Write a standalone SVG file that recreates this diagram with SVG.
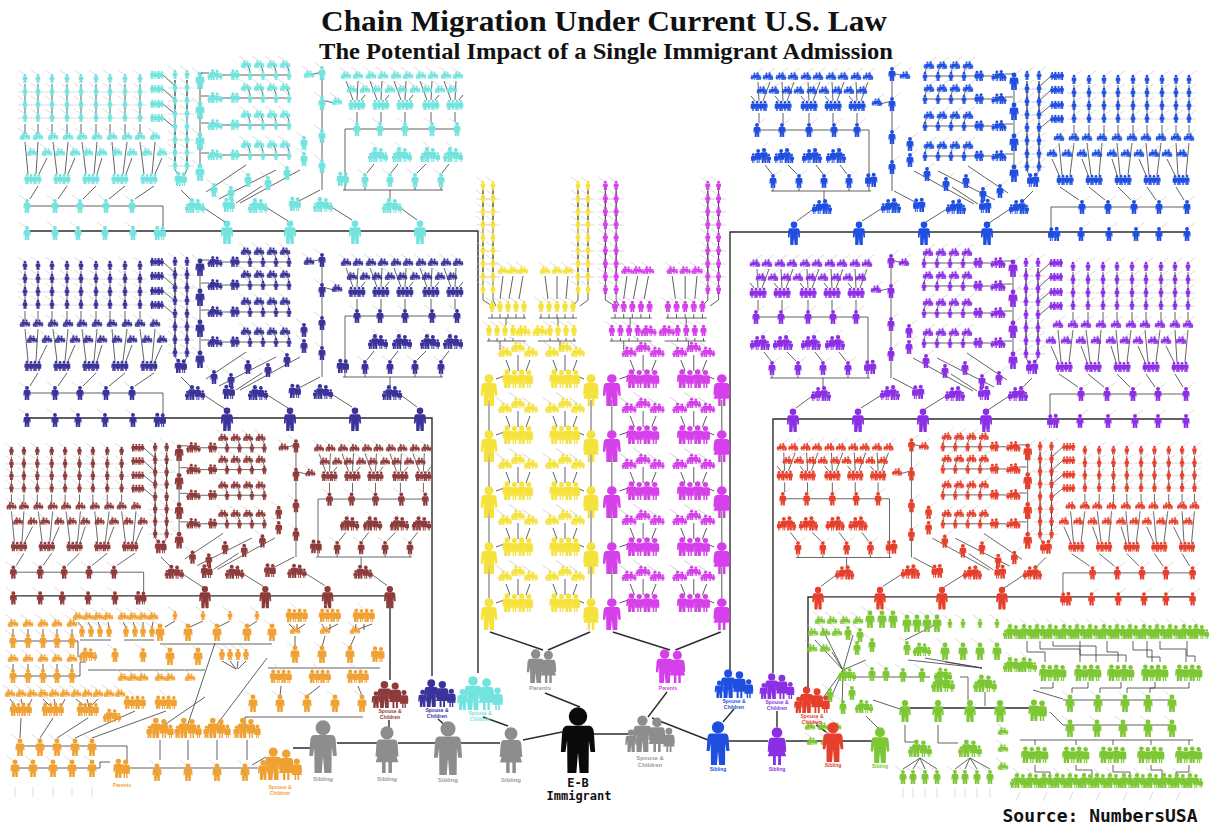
<svg xmlns="http://www.w3.org/2000/svg" width="1216" height="833" viewBox="0 0 1216 833">
<style>
.ln{stroke:#2d2d2d;stroke-width:1.4;fill:none}
.lt{stroke:#3b3b3b;stroke-width:.8;fill:none}
.gr{stroke:#c6c6c6;stroke-width:.6;fill:none}
.tl{font-family:"Liberation Serif","Times New Roman",serif;font-weight:bold;text-anchor:middle;fill:#111}
.lb{font-family:"Liberation Sans",Arial,sans-serif;font-weight:bold;text-anchor:middle;font-size:5px}
.lg{font-family:"Liberation Sans",Arial,sans-serif;font-weight:bold;text-anchor:middle;font-size:6px;fill:#9a9a9a}
.mono{font-family:"DejaVu Sans Mono","Liberation Mono",monospace;font-weight:bold;text-anchor:middle;fill:#111}
</style>
<defs>
<g id="P"><circle cx="0" cy="-17.1" r="2.8"/><path d="M-3.5,-14.3H3.5Q4.6,-14.1 4.8,-12.4L5.2,-6.4H3.8L3.3,-9.8L3.2,0H0.5L0,-6.2L-0.5,0H-3.2L-3.3,-9.8L-3.8,-6.4H-5.2L-4.8,-12.4Q-4.6,-14.1 -3.5,-14.3Z"/></g>
<g id="W"><circle cx="0" cy="-17.1" r="2.8"/><path d="M-3.2,-14.3H3.2Q4.3,-14.1 4.5,-12.4L4.9,-7H3.6L3.1,-10.2L4.8,-4.6H2.1V0H0.6V-4.6H-0.6V0H-2.1V-4.6H-4.8L-3.1,-10.2L-3.6,-7H-4.9L-4.5,-12.4Q-4.3,-14.1 -3.2,-14.3Z"/></g>
<g id="F"><use href="#P" transform="translate(-2.8,0) scale(.68)"/><use href="#W" transform="translate(2.6,0) scale(.64)"/><use href="#P" transform="translate(-7,0) scale(.42)"/><use href="#W" transform="translate(7,0) scale(.45)"/></g>
<g id="C"><use href="#P" transform="translate(-2.7,0) scale(.72)"/><use href="#W" transform="translate(2.7,0) scale(.69)"/></g>
<g id="G"><use href="#P" transform="translate(-6,0) scale(.52)"/><use href="#W" transform="translate(-2,0) scale(.5)"/><use href="#P" transform="translate(2,0) scale(.52)"/><use href="#W" transform="translate(6,0) scale(.5)"/></g>
<g id="t"><path class="gr" d="M0,-8l-7,-5"/><use href="#P" transform="scale(.46)"/></g>
<g id="q"><path class="gr" d="M0,-10l-7,-5"/><use href="#P" transform="scale(.56)"/></g>
<g id="s"><path class="gr" d="M0,-12l-8,-6"/><use href="#P" transform="scale(.7)"/></g>
<g id="m"><path class="gr" d="M0,-15l-8,-6"/><use href="#P" transform="scale(.88)"/></g>
<g id="b"><use href="#P" transform="scale(1.18)"/></g>
<g id="f"><path class="gr" d="M0,-7l-7,-5"/><use href="#F" transform="scale(.58)"/></g>
<g id="F8"><use href="#F" transform="scale(.82)"/></g>
<g id="F1"><path class="gr" d="M0,-14l-7,-6"/><use href="#F" transform="scale(1.1)"/></g>
<g id="F15"><use href="#F" transform="scale(1.5)"/></g>
<g id="G8"><use href="#G" transform="scale(.8)"/></g>
<g id="G13"><path class="gr" d="M0,-13l-7,-6"/><use href="#G" transform="scale(1.3)"/></g>
<g id="G16"><use href="#G" transform="scale(1.6)"/></g>
<g id="ch"><path class="lt" d="M0,-38V-2"/><path class="gr" d="M-7,-4H7M-7,-17H7M-7,-30H7"/><use href="#t"/><use href="#t" y="-13"/><use href="#t" y="-26"/><use href="#t" y="-39"/></g>
<g id="brow"><path class="lt" d="M1,-7H9M22,-5H91M47,-17L50,-9M60,-17L63,-9M73,-17L76,-9M86,-17L89,-9"/><use href="#F8" x="15"/><use href="#C" transform="translate(35,0) scale(.75)"/><use href="#t" x="50"/><use href="#t" x="63"/><use href="#t" x="76"/><use href="#t" x="89"/><use href="#f" x="46" y="-12"/><use href="#f" x="59" y="-12"/><use href="#f" x="72" y="-12"/><use href="#f" x="85" y="-12"/></g>

<g id="blk">
<path class="lt" d="M25,124V134M38,124V134M52,124V134M67,124V134M81,124V134M96,124V134M110,124V134M125,124V134M140,124V134"/>
<path class="lt" d="M25,142L28,174M38,142L36,174M47,158L39,174M53,142L57,174M68,142L65,174M75,158L68,174M82,142L86,174M97,142L94,174M102,158L97,174M112,142L115,174M127,142L123,174M132,158L126,174M140,142L144,174M155,142L152,174M162,158L155,174"/>
<path class="lt" d="M38,186L30,199M67,186L58,199M96,186L83,199M125,186L109,199M154,186L135,199M27,206H163V231"/>
<path class="ln" d="M27,231H420"/>
<use href="#ch" x="25" y="122"/><use href="#ch" x="38" y="122"/><use href="#ch" x="52" y="122"/><use href="#ch" x="67" y="122"/><use href="#ch" x="81" y="122"/><use href="#ch" x="96" y="122"/><use href="#ch" x="110" y="122"/><use href="#ch" x="125" y="122"/><use href="#ch" x="140" y="122"/>
<use href="#f" x="25" y="140"/><use href="#f" x="38" y="140"/><use href="#f" x="53" y="140"/><use href="#f" x="68" y="140"/><use href="#f" x="82" y="140"/><use href="#f" x="97" y="140"/><use href="#f" x="112" y="140"/><use href="#f" x="127" y="140"/><use href="#f" x="140" y="140"/><use href="#f" x="155" y="140"/>
<use href="#f" x="32" y="156"/><use href="#f" x="47" y="156"/><use href="#f" x="60" y="156"/><use href="#f" x="75" y="156"/><use href="#f" x="88" y="156"/><use href="#f" x="102" y="156"/><use href="#f" x="117" y="156"/><use href="#f" x="132" y="156"/><use href="#f" x="147" y="156"/><use href="#f" x="162" y="156"/>
<use href="#G" x="33" y="184"/><use href="#G" x="62" y="184"/><use href="#G" x="91" y="184"/><use href="#G" x="120" y="184"/><use href="#G" x="149" y="184"/>
<use href="#s" x="27" y="213"/><use href="#s" x="55" y="213"/><use href="#s" x="80" y="213"/><use href="#s" x="106" y="213"/><use href="#s" x="132" y="213"/>
<use href="#s" x="27" y="240"/><use href="#s" x="55" y="240"/><use href="#s" x="78" y="240"/><use href="#s" x="105" y="240"/><use href="#s" x="133" y="240"/>
<use href="#C" x="160" y="240"/>
<use href="#b" x="227" y="244"/><use href="#b" x="290" y="244"/><use href="#b" x="355" y="244"/><use href="#b" x="420" y="244"/>
<path class="lt" d="M175,80V168M187,80V168M163,75L175,86M163,89L175,100M163,104L175,114M163,118L175,128M175,170L179,175M187,170L184,175M200,72V166M322,70V190M310,75L322,72M322,100L334,103M206,192L246,165M219,199L276,170M240,203L300,170M201,206L225,222M264,206L288,221M330,206L352,220M181,190L192,201M299,201L320,190M236,203L262,186"/>
<use href="#G8" x="157" y="79"/><use href="#G8" x="157" y="93"/><use href="#G8" x="157" y="108"/><use href="#G8" x="157" y="122"/>
<use href="#ch" x="175" y="118"/><use href="#ch" x="175" y="170"/><use href="#ch" x="187" y="118"/><use href="#ch" x="187" y="170"/>
<use href="#C" x="181" y="186"/>
<use href="#m" x="200" y="89"/><use href="#m" x="200" y="119"/><use href="#m" x="200" y="150"/><use href="#m" x="200" y="181"/>
<use href="#brow" x="200" y="80"/><use href="#brow" x="200" y="103"/><use href="#brow" x="200" y="130"/><use href="#brow" x="200" y="160"/>
<use href="#s" x="322" y="80"/><use href="#s" x="322" y="110"/><use href="#s" x="322" y="143"/><use href="#s" x="322" y="173"/>
<use href="#f" x="309" y="78"/><use href="#f" x="337" y="105"/>
<use href="#s" x="304" y="150"/><use href="#s" x="304" y="166"/>
<use href="#s" x="214" y="197"/><use href="#s" x="231" y="200"/><use href="#s" x="248" y="187"/><use href="#s" x="268" y="190"/><use href="#s" x="287" y="180"/>
<use href="#F" transform="translate(195,213) scale(1.1)"/><use href="#F" transform="translate(258,213) scale(1.1)"/><use href="#F" transform="translate(323,212) scale(1.1)"/>
<use href="#C" x="229" y="212"/><use href="#C" x="295" y="211"/>
<path class="lt" d="M346,81L353,100M358,81L357,100M365,95L361,100M370,81L377,100M382,81L381,100M389,95L385,100M394,81L401,100M406,81L405,100M413,95L409,100M420,81L427,100M432,81L431,100M439,95L435,100M444,81L451,100M456,81L455,100M463,95L459,100"/>
<path class="lt" d="M357,112V122M381,112V122M405,112V122M431,112V122M455,112V122M345,129H460M345,129V190M374,164L367,173M398,164L391,173M426,164L417,173M449,164L442,173M343,190H443M365,190V187M390,190V199M415,190V187M441,190V187M398,206L417,220"/>
<use href="#f" x="346" y="79"/><use href="#f" x="358" y="79"/><use href="#f" x="371" y="79"/><use href="#f" x="383" y="79"/><use href="#f" x="396" y="79"/><use href="#f" x="408" y="79"/><use href="#f" x="421" y="79"/><use href="#f" x="433" y="79"/><use href="#f" x="446" y="79"/><use href="#f" x="458" y="79"/>
<use href="#f" x="352" y="93"/><use href="#f" x="365" y="93"/><use href="#f" x="377" y="93"/><use href="#f" x="390" y="93"/><use href="#f" x="402" y="93"/><use href="#f" x="415" y="93"/><use href="#f" x="427" y="93"/><use href="#f" x="440" y="93"/><use href="#f" x="452" y="93"/>
<use href="#G" x="357" y="110"/><use href="#G" x="381" y="110"/><use href="#G" x="405" y="110"/><use href="#G" x="431" y="110"/><use href="#G" x="455" y="110"/>
<use href="#s" x="357" y="136"/><use href="#s" x="380" y="136"/><use href="#s" x="405" y="136"/><use href="#s" x="432" y="136"/><use href="#s" x="457" y="136"/>
<use href="#F1" x="378" y="162"/><use href="#F1" x="402" y="162"/><use href="#F1" x="430" y="162"/><use href="#F1" x="453" y="162"/>
<use href="#C" x="343" y="186"/>
<use href="#s" x="365" y="187"/><use href="#s" x="390" y="187"/><use href="#s" x="415" y="187"/><use href="#s" x="441" y="187"/>
<use href="#F" transform="translate(392,213) scale(1.1)"/>
</g>

<g id="yu">
<path class="lt" d="M506,-28L510,-17M518,-33V-17M530,-28L526,-17M553,-28L557,-17M565,-33V-17M577,-28L573,-17M496,-9L504,-12M584,-9L577,-12"/>
<use href="#f" transform="translate(505,-31) scale(1.3)"/><use href="#f" transform="translate(518,-36) scale(1.3)"/><use href="#f" transform="translate(531,-31) scale(1.3)"/>
<use href="#f" transform="translate(552,-31) scale(1.3)"/><use href="#f" transform="translate(565,-36) scale(1.3)"/><use href="#f" transform="translate(578,-31) scale(1.3)"/>
<use href="#G" transform="translate(518,0) scale(1.8)"/><use href="#G" transform="translate(565,0) scale(1.8)"/>
<use href="#P" transform="translate(489,18) scale(1.6)"/><use href="#W" transform="translate(591,18) scale(1.6)"/>
</g>

<g id="ymb">
<path class="lt" d="M483,186V300M493,186V300M578,186V300M588,186V300M483,300L492,306M493,300L496,306M578,300L573,306M588,300L580,306M503,276L500,299M513,276L509,299M523,276L519,299M545,276L548,299M557,276L557,299M568,276L566,299M488,318H526M492,314V318M500,314V318M508,314V318M516,314V318M524,314V318M539,318H577M541,314V318M549,314V318M557,314V318M565,314V318M573,314V318M506,318V325M558,318V325M487,341H526M489,338V341M497,338V341M505,338V341M513,338V341M538,341H576M550,338V341M558,338V341M566,338V341M574,338V341M500,341V350M560,341V350M489,400V598M591,400V598"/>
<path class="ln" d="M490,632L543,650M590,632L548,650"/>
<use href="#ch" x="483" y="229"/><use href="#ch" x="483" y="281"/><use href="#t" x="483" y="294"/>
<use href="#ch" x="493" y="229"/><use href="#ch" x="493" y="281"/><use href="#t" x="493" y="294"/>
<use href="#ch" x="578" y="229"/><use href="#ch" x="578" y="281"/><use href="#t" x="578" y="294"/>
<use href="#ch" x="588" y="229"/><use href="#ch" x="588" y="281"/><use href="#t" x="588" y="294"/>
<use href="#f" x="503" y="274"/><use href="#f" x="513" y="274"/><use href="#f" x="523" y="274"/><use href="#f" x="545" y="274"/><use href="#f" x="557" y="274"/><use href="#f" x="568" y="274"/>
<use href="#q" x="492" y="312"/><use href="#q" x="500" y="312"/><use href="#q" x="508" y="312"/><use href="#q" x="516" y="312"/><use href="#q" x="524" y="312"/><use href="#q" x="541" y="312"/><use href="#q" x="549" y="312"/><use href="#q" x="557" y="312"/><use href="#q" x="565" y="312"/><use href="#q" x="573" y="312"/>
<use href="#q" x="489" y="336"/><use href="#q" x="497" y="336"/><use href="#q" x="505" y="336"/><use href="#q" x="513" y="336"/><use href="#F8" x="523" y="336"/><use href="#F8" x="540" y="336"/><use href="#q" x="550" y="336"/><use href="#q" x="558" y="336"/><use href="#q" x="566" y="336"/><use href="#q" x="574" y="336"/>
<use href="#yu" y="388"/><use href="#yu" y="444"/><use href="#yu" y="500"/><use href="#yu" y="556"/><use href="#yu" y="612"/>
</g>
</defs>

<rect width="1216" height="833" fill="#ffffff"/>
<text class="tl" x="604" y="31" font-size="30" textLength="566" lengthAdjust="spacingAndGlyphs">Chain Migration Under Current U.S. Law</text>
<text class="tl" x="606" y="58.5" font-size="22.5" textLength="574" lengthAdjust="spacingAndGlyphs">The Potential Impact of a Single Immigrant Admission</text>

<g id="connectors">
<path class="ln" d="M420,231H478V673M420,418H432V676M390,596V680M794,232H730V670M793,419H773V673M818,597H808V688"/>
<path class="ln" d="M293,748H316M337,743H377M398,743H437M460,743H500M523,740L562,732M592,734H632M545,693L580,707M648,717L667,692M652,718L708,740M728,741H768M786,741H824M842,741H872M734,709L723,722M777,711V727M816,725L826,732M483,717L508,726M438,719L447,727M389,720V727"/>
</g>

<g id="block-cyan"><use href="#blk" fill="#72e3de"/></g>
<g id="block-navy"><use href="#blk" fill="#3a3399" transform="translate(0,187)"/></g>
<g id="block-brown"><use href="#blk" fill="#8e3b3b" transform="matrix(0.958,0,0,0.95,-12.5,376.5)"/></g>
<g id="block-blue"><use href="#blk" fill="#1f4fe0" transform="matrix(-1,0,0,1,1214,1)"/></g>
<g id="block-purple"><use href="#blk" fill="#8b2fe5" transform="matrix(-1,0,0,1,1213,188)"/></g>
<g id="block-red"><use href="#blk" fill="#e6402c" transform="matrix(-0.953,0,0,0.9625,1218.3,374.6)"/></g>
<g id="block-yellow"><use href="#ymb" fill="#f6e23c"/></g>
<g id="block-magenta"><use href="#ymb" fill="#d640ea" transform="matrix(1.078,0,0,1,84.7,0)"/></g>

<g id="block-orange" fill="#f0a133">
<path class="lt" d="M13,629V635M28,629V635M43,629V635M57,629V635M72,629V635M13,664V670M28,664V670M43,664V670M57,664V670M72,664V670M13,641H78V657M13,676H80V662H86M80,640H111M124,640H154M78,622L82,627M88,622L91,627M98,622L100,627M108,622L109,627M123,622L126,627M133,622L135,627M143,622L143,627M153,622L152,627M175,621L165,627M203,621L190,627M230,621L218,627M257,621L248,627M160,644H272M88,670H205M222,661L236,669M230,661L236,669M238,661L237,669M246,661L238,669M289,624L295,630M297,624V630M305,624L296,630M322,624L325,630M330,624V630M338,624L326,630M356,624L355,630M364,624V630M372,624L356,630M295,636V647M325,636L322,647M355,636L350,647M268,668H380M281,686L280,696M320,686L307,696M358,686L362,696M245,717H363M245,717V730M10,699l6,8M21,699l2,8M32,699l-4,8M43,699l8,8M54,699l2,8M65,699l-4,8M76,699l10,8M87,699l2,8M98,699l-8,8M21,718L20,738M53,718L40,738M88,718L57,738M135,711L75,738M166,711L92,738M20,746H127V762M160,728L205,697M187,727L215,643M215,727L267,658M15,768H100V762H110M130,768H258M160,740V760M188,740V760M217,740V760M247,740V760M252,765L266,757"/>
<use href="#f" x="13" y="627"/><use href="#f" x="28" y="627"/><use href="#f" x="43" y="627"/><use href="#f" x="57" y="627"/><use href="#f" x="72" y="627"/>
<use href="#s" x="13" y="648"/><use href="#s" x="28" y="648"/><use href="#s" x="43" y="648"/><use href="#s" x="57" y="648"/><use href="#s" x="72" y="648"/>
<use href="#f" x="13" y="662"/><use href="#f" x="28" y="662"/><use href="#f" x="43" y="662"/><use href="#f" x="57" y="662"/><use href="#f" x="72" y="662"/>
<use href="#s" x="13" y="683"/><use href="#s" x="28" y="683"/><use href="#s" x="43" y="683"/><use href="#s" x="57" y="683"/><use href="#s" x="72" y="683"/>
<use href="#f" x="78" y="620"/><use href="#f" x="88" y="620"/><use href="#f" x="98" y="620"/><use href="#f" x="108" y="620"/><use href="#f" x="123" y="620"/><use href="#f" x="133" y="620"/><use href="#f" x="143" y="620"/><use href="#f" x="153" y="620"/>
<use href="#q" x="82" y="637"/><use href="#q" x="91" y="637"/><use href="#q" x="100" y="637"/><use href="#q" x="109" y="637"/><use href="#q" x="126" y="637"/><use href="#q" x="135" y="637"/><use href="#q" x="143" y="637"/><use href="#q" x="152" y="637"/>
<use href="#t" x="175" y="620"/><use href="#t" x="203" y="620"/><use href="#t" x="230" y="620"/><use href="#t" x="257" y="620"/>
<use href="#m" x="160" y="641"/><use href="#m" x="188" y="641"/><use href="#m" x="217" y="641"/><use href="#m" x="247" y="641"/><use href="#m" x="272" y="641"/>
<use href="#F" x="88" y="661"/><use href="#s" x="115" y="662"/><use href="#s" x="143" y="662"/><use href="#m" x="170" y="665"/><use href="#m" x="198" y="665"/>
<use href="#q" x="222" y="660"/><use href="#q" x="230" y="660"/><use href="#q" x="238" y="660"/><use href="#q" x="246" y="660"/>
<use href="#f" x="123" y="681"/><use href="#f" x="133" y="681"/><use href="#f" x="143" y="681"/><use href="#f" x="160" y="681"/><use href="#f" x="170" y="681"/><use href="#f" x="190" y="681"/>
<use href="#G13" x="297" y="622"/><use href="#G13" x="330" y="622"/><use href="#G13" x="364" y="622"/>
<use href="#f" x="295" y="634"/><use href="#f" x="325" y="634"/><use href="#f" x="355" y="634"/>
<use href="#m" x="295" y="663"/><use href="#m" x="322" y="663"/><use href="#m" x="350" y="663"/>
<use href="#C" transform="translate(378,662) scale(1.1)"/>
<use href="#G13" x="281" y="683"/><use href="#G13" x="320" y="683"/><use href="#G13" x="358" y="683"/>
<use href="#m" x="253" y="712"/><use href="#m" x="280" y="712"/><use href="#m" x="307" y="712"/><use href="#m" x="335" y="712"/><use href="#m" x="362" y="712"/>
<use href="#f" x="10" y="697"/><use href="#f" x="21" y="697"/><use href="#f" x="32" y="697"/><use href="#f" x="43" y="697"/><use href="#f" x="54" y="697"/><use href="#f" x="65" y="697"/><use href="#f" x="76" y="697"/><use href="#f" x="87" y="697"/><use href="#f" x="98" y="697"/><use href="#f" x="109" y="697"/><use href="#f" x="120" y="697"/>
<use href="#G13" x="21" y="716"/><use href="#G13" x="53" y="716"/><use href="#G13" x="88" y="716"/><use href="#G13" x="135" y="709"/><use href="#G13" x="166" y="709"/>
<use href="#F" x="112" y="722"/>
<use href="#F15" x="160" y="738"/><use href="#F15" x="188" y="738"/><use href="#F15" x="217" y="738"/><use href="#F15" x="247" y="738"/>
<use href="#m" x="20" y="756"/><use href="#m" x="40" y="756"/><use href="#m" x="57" y="756"/><use href="#m" x="75" y="756"/><use href="#m" x="92" y="756"/>
<use href="#m" x="15" y="777"/><use href="#m" x="33" y="777"/><use href="#m" x="53" y="777"/><use href="#m" x="72" y="777"/><use href="#m" x="92" y="777"/>
<use href="#C" transform="translate(122,778) scale(1.35)"/>
<use href="#m" x="157" y="781"/><use href="#m" x="188" y="781"/><use href="#m" x="217" y="781"/><use href="#m" x="245" y="781"/>
<path class="gr" d="M15,787V797M33,787V797M53,787V797M72,787V797M92,787V797"/>
</g>

<g id="block-green" fill="#7dc735">
<path class="lt" d="M843,670L815,640M843,670L822,628M843,670L832,652M843,670L818,705M843,670L853,635M843,670L866,660M843,670L830,700M843,670L842,710M843,677H930M815,722L830,735M905,640L935,625M908,660L982,668M925,658L982,668M945,662L982,668M960,677H968V700M985,692V706M873,700L903,710M905,725V742H916M938,725V743H958M920,758L903,769M920,758L913,769M920,758L925,769M920,758L937,769M970,758L955,769M970,758L965,769M970,758L977,769M970,758L990,769M878,728L866,716"/>
<path class="ln" d="M900,708H1032"/>
<path class="lt" d="M1027,641V652H1045V662M1040,641V649H1080V662M1053,641V646H1096V662M1080,641V655H1126V662M1107,641V652H1118V662M1133,641V650H1152V662M1147,641V657H1160V662M1160,641V649H1186V662M1187,641V656H1195V662M1053,682V688H1040M1088,682V688H1072V693M1121,682V688H1100V693M1155,682V688H1127V693M1189,682V688H1150V693M1033,690L1063,699M1063,700H1172M1050,712L1063,725M1063,725H1172M1020,740H1193M1035,740V745M1076,740V745M1113,740V745M1151,740V745M1189,740V745M1035,765V772H1050V778M1076,765V770H1092V778M1113,765V772H1130V778M1151,765V770H1162V778M1189,765V772H1176V778"/>
<use href="#f" x="820" y="624"/><use href="#f" x="832" y="624"/><use href="#f" x="845" y="624"/><use href="#f" x="858" y="624"/>
<use href="#m" x="870" y="628"/><use href="#m" x="882" y="628"/><use href="#m" x="893" y="628"/>
<use href="#f" x="813" y="636"/><use href="#f" x="825" y="636"/><use href="#f" x="837" y="636"/><use href="#s" x="848" y="640"/><use href="#s" x="860" y="642"/>
<use href="#f" x="812" y="652"/><use href="#f" x="825" y="652"/><use href="#s" x="857" y="655"/><use href="#s" x="872" y="652"/>
<use href="#F" x="847" y="681"/><use href="#s" x="872" y="681"/><use href="#s" x="886" y="681"/><use href="#s" x="903" y="682"/><use href="#s" x="922" y="682"/><use href="#F" x="943" y="681"/>
<use href="#s" x="830" y="702"/><use href="#s" x="852" y="700"/><use href="#F" x="864" y="713"/><use href="#s" x="843" y="714"/>
<use href="#f" x="810" y="730"/><use href="#f" x="823" y="730"/><use href="#f" x="836" y="730"/><use href="#f" x="812" y="745"/><use href="#f" x="826" y="745"/>
<use href="#m" x="907" y="632"/><use href="#m" x="917" y="632"/><use href="#m" x="927" y="632"/><use href="#m" x="937" y="632"/>
<use href="#t" x="950" y="628"/><use href="#t" x="963" y="628"/><use href="#t" x="980" y="628"/><use href="#t" x="997" y="628"/>
<use href="#s" x="907" y="655"/><use href="#F" x="922" y="656"/><use href="#m" x="945" y="660"/><use href="#m" x="963" y="660"/><use href="#m" x="980" y="660"/><use href="#m" x="997" y="660"/>
<use href="#F" transform="translate(943,692) scale(1.3)"/><use href="#F" transform="translate(985,692) scale(1.3)"/>
<use href="#P" transform="translate(905,722) scale(1.1)"/><use href="#P" transform="translate(938,722) scale(1.1)"/><use href="#P" transform="translate(970,722) scale(1.1)"/><use href="#P" transform="translate(1000,722) scale(1.1)"/>
<use href="#C" transform="translate(1038,721) scale(1.5)"/>
<use href="#F" transform="translate(920,757) scale(1.3)"/><use href="#F" transform="translate(970,757) scale(1.3)"/>
<use href="#s" x="903" y="784"/><use href="#s" x="913" y="784"/><use href="#s" x="925" y="784"/><use href="#s" x="937" y="784"/><use href="#s" x="955" y="784"/><use href="#s" x="965" y="784"/><use href="#s" x="977" y="784"/><use href="#s" x="990" y="784"/>
<use href="#F1" x="1013" y="639"/><use href="#F1" x="1027" y="639"/><use href="#F1" x="1040" y="639"/><use href="#F1" x="1053" y="639"/><use href="#F1" x="1067" y="639"/><use href="#F1" x="1080" y="639"/><use href="#F1" x="1093" y="639"/><use href="#F1" x="1107" y="639"/><use href="#F1" x="1120" y="639"/><use href="#F1" x="1133" y="639"/><use href="#F1" x="1147" y="639"/><use href="#F1" x="1160" y="639"/><use href="#F1" x="1173" y="639"/><use href="#F1" x="1187" y="639"/><use href="#F1" x="1199" y="639"/>
<use href="#F1" x="1013" y="672"/><use href="#F1" x="1027" y="672"/>
<use href="#G16" x="1053" y="681"/><use href="#G16" x="1088" y="681"/><use href="#G16" x="1121" y="681"/><use href="#G16" x="1155" y="681"/><use href="#G16" x="1189" y="681"/>
<use href="#m" x="1070" y="712"/><use href="#m" x="1098" y="712"/><use href="#m" x="1125" y="712"/><use href="#m" x="1148" y="712"/><use href="#m" x="1172" y="712"/>
<use href="#m" x="1070" y="737"/><use href="#m" x="1097" y="737"/><use href="#m" x="1123" y="737"/><use href="#m" x="1148" y="737"/><use href="#m" x="1172" y="737"/>
<use href="#G16" x="1035" y="763"/><use href="#G16" x="1076" y="763"/><use href="#G16" x="1113" y="763"/><use href="#G16" x="1151" y="763"/><use href="#G16" x="1189" y="763"/>
<use href="#f" x="1003" y="735"/><use href="#f" x="1003" y="752"/><use href="#f" x="1003" y="770"/>
<use href="#F1" x="1020" y="788"/><use href="#F1" x="1033" y="788"/><use href="#F1" x="1047" y="788"/><use href="#F1" x="1060" y="788"/><use href="#F1" x="1073" y="788"/><use href="#F1" x="1087" y="788"/><use href="#F1" x="1100" y="788"/><use href="#F1" x="1113" y="788"/><use href="#F1" x="1127" y="788"/><use href="#F1" x="1140" y="788"/><use href="#F1" x="1153" y="788"/><use href="#F1" x="1167" y="788"/><use href="#F1" x="1180" y="788"/><use href="#F1" x="1193" y="788"/>
<path class="gr" d="M903,788V798M913,788V798M925,788V798M937,788V798M955,788V798M965,788V798M977,788V798M990,788V798M1020,792l-4,9M1047,792l-4,9M1073,792l-4,9M1100,792l-4,9M1127,792l-4,9M1153,792l-4,9M1180,792l-4,9"/>
</g>

<g id="node-orange-family" fill="#f0a133"><use href="#F" transform="translate(280,780) scale(2.4)"/><text class="lb" x="280" y="789">Spouse &amp;</text><text class="lb" x="280" y="795">Children</text></g>
<g id="node-orange-parents" fill="#f0a133"><text class="lb" x="122" y="787">Parents</text></g>
<g id="node-brown-family" fill="#8e3b3b"><use href="#F" transform="translate(390,708) scale(2)"/><text class="lb" x="390" y="713">Spouse &amp;</text><text class="lb" x="390" y="719">Children</text></g>
<g id="node-navy-family" fill="#3a3399"><use href="#F" transform="translate(437,707) scale(2.05)"/><text class="lb" x="437" y="712">Spouse &amp;</text><text class="lb" x="437" y="718">Children</text></g>
<g id="node-cyan-family" fill="#72e3de"><use href="#F" transform="translate(480,710) scale(2.5)"/><text class="lb" x="480" y="715">Spouse &amp;</text><text class="lb" x="480" y="721">Children</text></g>
<g id="node-sibling-1" fill="#8d8d8d"><use href="#P" transform="translate(323,773) scale(2.65)"/><text class="lg" x="323" y="781">Sibling</text></g>
<g id="node-sibling-2" fill="#8d8d8d"><use href="#W" transform="translate(387,773) scale(2.35)"/><text class="lg" x="387" y="781">Sibling</text></g>
<g id="node-sibling-3" fill="#8d8d8d"><use href="#P" transform="translate(448,775) scale(2.7)"/><text class="lg" x="448" y="782">Sibling</text></g>
<g id="node-sibling-4" fill="#8d8d8d"><use href="#W" transform="translate(511,773) scale(2.3)"/><text class="lg" x="511" y="782">Sibling</text></g>
<g id="node-parents-gray" fill="#8d8d8d"><use href="#C" transform="translate(542,683) scale(2.35)"/><text class="lg" x="540" y="690">Parents</text></g>
<g id="node-eb-immigrant" fill="#0a0a0a"><use href="#P" transform="translate(578,773) scale(3.3)"/><text class="mono" x="578" y="787" font-size="12">E-B</text><text class="mono" x="579" y="800" font-size="12">Immigrant</text></g>
<g id="node-spouse-children-gray" fill="#8d8d8d"><use href="#F" transform="translate(650,752) scale(2.7)"/><text class="lg" x="650" y="760">Spouse &amp;</text><text class="lg" x="650" y="767">Children</text></g>
<g id="node-parents-magenta" fill="#d640ea"><use href="#C" transform="translate(671,683) scale(2.35)"/><text class="lb" x="668" y="690" font-size="6px">Parents</text></g>
<g id="node-blue-family" fill="#1f4fe0"><use href="#F" transform="translate(734,698) scale(2.1)"/><text class="lb" x="734" y="703">Spouse &amp;</text><text class="lb" x="734" y="709">Children</text></g>
<g id="node-blue-sibling" fill="#1f4fe0"><use href="#P" transform="translate(718,765) scale(2.2)"/><text class="lb" x="718" y="771">Sibling</text></g>
<g id="node-purple-family" fill="#8b2fe5"><use href="#F" transform="translate(777,699) scale(1.9)"/><text class="lb" x="777" y="704">Spouse &amp;</text><text class="lb" x="777" y="710">Children</text></g>
<g id="node-purple-sibling" fill="#8b2fe5"><use href="#W" transform="translate(777,765) scale(1.9)"/><text class="lb" x="777" y="771">Sibling</text></g>
<g id="node-red-family" fill="#e6402c"><use href="#F" transform="translate(812,713) scale(1.95)"/><text class="lb" x="812" y="718">Spouse &amp;</text><text class="lb" x="812" y="724">Children</text></g>
<g id="node-red-sibling" fill="#e6402c"><use href="#P" transform="translate(833,762) scale(2)"/><text class="lb" x="833" y="767">Sibling</text></g>
<g id="node-green-sibling" fill="#7dc735"><use href="#P" transform="translate(880,763) scale(1.8)"/><text class="lb" x="880" y="768">Sibling</text></g>

<text class="mono" x="1100" y="822" font-size="18">Source:  NumbersUSA</text>
</svg>
